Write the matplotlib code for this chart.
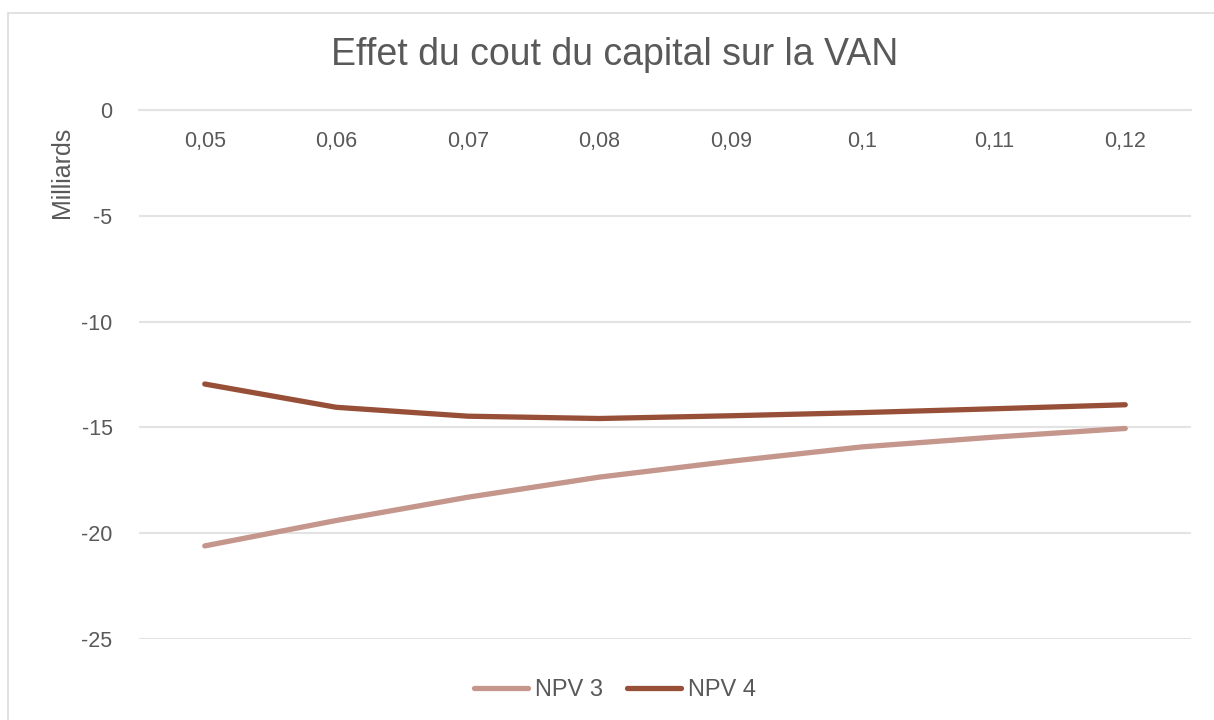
import matplotlib
matplotlib.use("Agg")
import matplotlib.pyplot as plt
from matplotlib.patches import Rectangle
from matplotlib.lines import Line2D
import numpy as np

rates = ["0,05", "0,06", "0,07", "0,08", "0,09", "0,1", "0,11", "0,12"]
npv3 = [-20.6, -19.4, -18.3, -17.35, -16.6, -15.92, -15.46, -15.05]
npv4 = [-12.95, -14.05, -14.47, -14.58, -14.45, -14.3, -14.12, -13.93]
series_names = ["NPV 3", "NPV 4"]
yticks = [0, -5, -10, -15, -20, -25]

plt.rcParams['font.family'] = ['Liberation Sans', 'DejaVu Sans']
plt.rcParams['axes.unicode_minus'] = False

TXT = "#595959"
GRID = "#E3E3E3"
C3 = "#C4968C"
C4 = "#974F38"

fig = plt.figure(figsize=(12.14, 7.2), dpi=100)
W, H = 1214, 720

# chart border
fig.patches.append(Rectangle((8 / W, -0.1), 1.2, 1 - 13 / H + 0.1, transform=fig.transFigure,
                             fill=False, edgecolor="#DDDDDD", linewidth=1.2))

ax = fig.add_axes([139 / W, 1 - 639 / H, 1052 / W, (639 - 110) / H])
x = np.arange(len(rates))
ax.plot(x, npv3, color=C3, linewidth=3.8, solid_capstyle='round', solid_joinstyle='round', zorder=3)
ax.plot(x, npv4, color=C4, linewidth=3.8, solid_capstyle='round', solid_joinstyle='round', zorder=4)

ax.set_xlim(-0.5, len(rates) - 0.5)
ax.set_ylim(-25, 0)
ax.set_yticks(yticks)
ax.set_yticklabels([str(v) for v in yticks])
ax.set_xticks(x)
ax.set_xticklabels(rates)

for s in ["top", "right", "left"]:
    ax.spines[s].set_visible(False)
ax.spines["bottom"].set_position(("data", 0))
ax.spines["bottom"].set_color(GRID)
ax.spines["bottom"].set_linewidth(1.5)
ax.grid(axis="y", color=GRID, linewidth=1.5, zorder=0)
ax.set_axisbelow(True)
ax.tick_params(axis="x", length=0, pad=15, labelsize=15.5, labelcolor=TXT)
ax.tick_params(axis="y", length=0, pad=19, labelsize=15.5, labelcolor=TXT)
ax.set_facecolor("none")

fig.text(615 / W, 1 - 55 / H, "Effet du cout du capital sur la VAN", ha="center", va="center",
         fontsize=27, color=TXT)
fig.text(62 / W, 1 - 172 / H, "Milliards", rotation=90, ha="center", va="center",
         fontsize=18, color=TXT)

handles = [Line2D([], [], color=C3, linewidth=3.8, solid_capstyle='round'),
           Line2D([], [], color=C4, linewidth=3.8, solid_capstyle='round')]
leg = fig.legend(handles, series_names, loc="center", bbox_to_anchor=(615 / W, 1 - 690 / H),
                 ncol=2, frameon=False, fontsize=17, labelcolor=TXT, handlelength=2.3,
                 handletextpad=0.3, columnspacing=1.0)

fig.savefig("out.png", dpi=100, facecolor="white")
